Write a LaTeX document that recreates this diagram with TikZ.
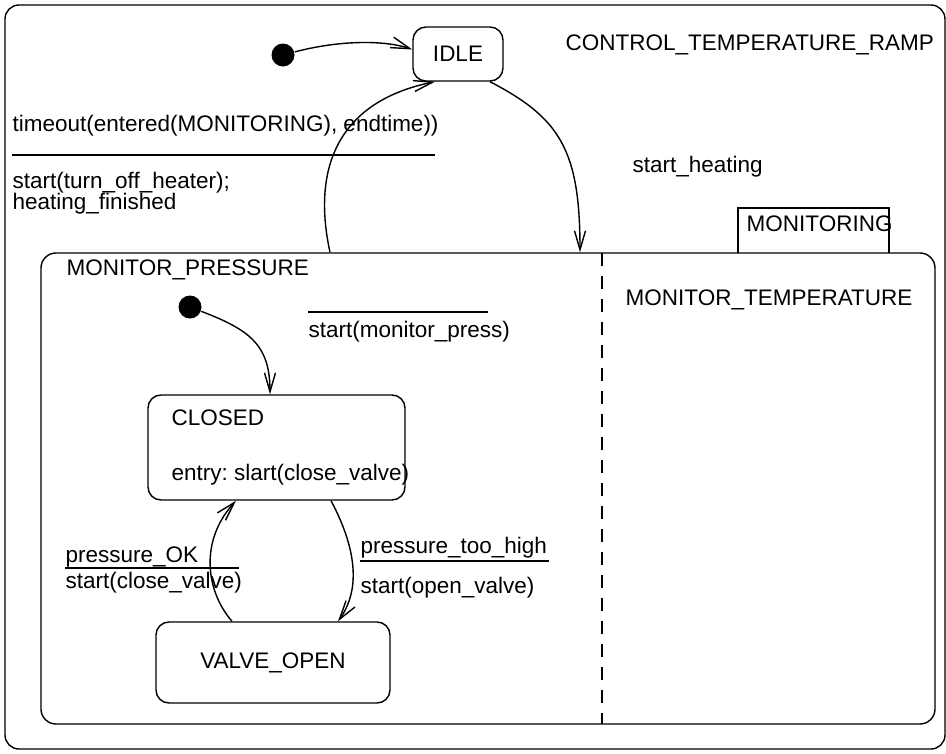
\documentclass[tikz,border=0pt]{standalone}
\usepackage{fontspec}
\setmainfont{Liberation Sans}
\frenchspacing
\usetikzlibrary{arrows.meta}
\tikzset{
	state/.style={draw, rounded corners=2.6mm, inner sep=0pt},
	trans/.style={-{Straight Barb[length=3.8mm, width=2.2mm]}},
	lbl/.style={anchor=base west, inner sep=0pt},
	initdot/.style={circle, fill, inner sep=0pt, minimum size=4.6mm},
}
\begin{document}
\begin{tikzpicture}[x=0.2mm, y=-0.2mm, line width=0.8pt, font=\fontsize{12.8}{15}\selectfont]
	\useasboundingbox (0, 0) rectangle (946, 754);
	% outer state
	\draw[rounded corners=2.8mm] (5, 5) rectangle (945, 749);
	\node[lbl] (ramp) at (565, 50) {CONTROL\_TEMPERATURE\_RAMP};
	\node[initdot] (dot0) at (283, 55) {};
	\node[state, minimum width=18mm, minimum height=10.8mm] (idle) at (458, 54) {IDLE};
	% MONITORING
	\node[state, rounded corners=3mm, minimum width=178.8mm, minimum height=94.2mm] (mon) at (488, 488.5) {};
	\draw (738, 253) |- (889, 208) -- (889, 253);
	\node[lbl] (montab) at (746, 231) {MONITORING};
	\draw[dash pattern=on 2.6mm off 2mm] (602, 253) -- (602, 724);
	\node[lbl] (press) at (66, 275) {MONITOR\_PRESSURE};
	\node[lbl] (temp) at (625, 305) {MONITOR\_TEMPERATURE};
	% inside MONITOR_PRESSURE
	\node[initdot] (dot1) at (190, 307) {};
	\node[state, minimum width=51.4mm, minimum height=21mm] (closed) at (276.5, 447.5) {};
	\node[lbl] (closedname) at (171, 425) {CLOSED};
	\node[lbl] (entry) at (171, 480) {entry: slart(close\_valve)};
	\node[state, minimum width=46.8mm, minimum height=16.2mm] (valve) at (273, 662.5) {VALVE\_OPEN};
	% transitions
	\draw[trans] (dot0) .. controls (340, 40) and (385, 40) .. ([yshift=0.9mm]idle.west);
	\draw[trans] ([xshift=6.4mm]idle.south) .. controls (560, 118) and (580, 150) .. ([xshift=18.4mm]mon.north);
	\draw[trans] ([xshift=-31.6mm]mon.north) .. controls (310, 160) and (345, 100) .. ([xshift=-4.6mm]idle.south);
	\draw[trans] (dot1) .. controls (250, 330) and (270, 345) .. ([xshift=-1.3mm]closed.north);
	\draw[trans] ([xshift=10.9mm]closed.south) .. controls (352, 540) and (364, 585) .. ([xshift=13mm]valve.north);
	\draw[trans] ([xshift=-8.2mm]valve.north) .. controls (205, 590) and (200, 540) .. ([xshift=-8.1mm]closed.south);
	% labels
	\node[lbl] (tout) at (12, 131) {timeout(entered(MONITORING), endtime))};
	\draw (12, 155) -- (435, 155);
	\node[lbl] (toff) at (12, 188) {start(turn\_off\_heater);};
	\node[lbl] (hfin) at (12, 209) {heating\_finished};
	\node[lbl] (sheat) at (632, 172) {start\_heating};
	\draw (308, 312) -- (488, 312);
	\node[lbl] (mpress) at (308, 337) {start(monitor\_press)};
	\node[lbl] (pok) at (65, 562) {pressure\_OK};
	\draw (65, 568) -- (239, 568);
	\node[lbl] (cvalve) at (65, 588) {start(close\_valve)};
	\node[lbl] (phigh) at (360, 553) {pressure\_too\_high};
	\draw (360, 561) -- (549, 561);
	\node[lbl] (ovalve) at (360, 593) {start(open\_valve)};
\end{tikzpicture}
\end{document}
